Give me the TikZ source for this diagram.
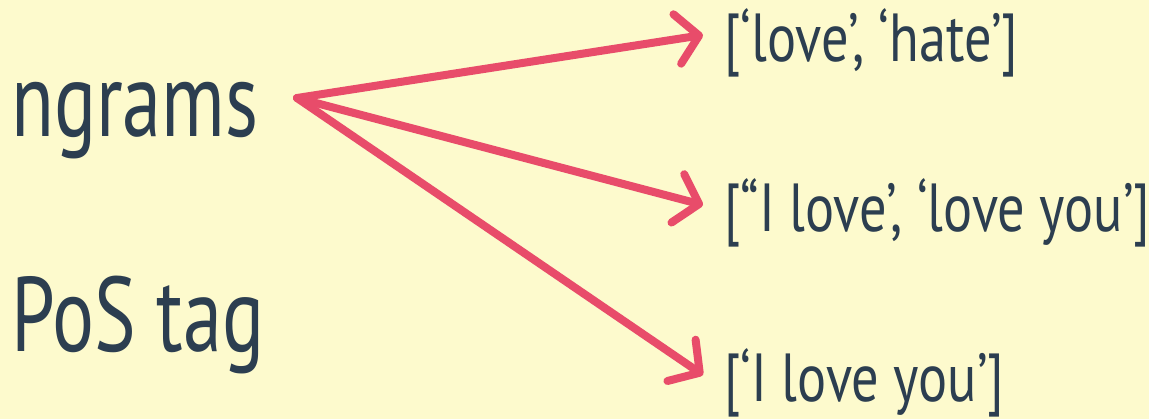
\documentclass[tikz,border=0pt]{standalone}
\usepackage{fontspec}
\setmainfont{PT Sans}[FakeStretch=0.8]
\newfontfamily\termfont{PT Sans}[FakeStretch=0.74]
\usetikzlibrary{arrows.meta,calc}
\definecolor{paper}{HTML}{FDFACD}
\definecolor{ink}{HTML}{2C3E50}
\definecolor{rose}{HTML}{E84C6A}
\begin{document}
\begin{tikzpicture}[x=1pt,y=-1pt,
  bigword/.style={inner sep=0pt,anchor=base west,text=ink,font=\termfont\fontsize{106}{110}\selectfont},
  listword/.style={inner sep=0pt,anchor=base west,text=ink,font=\fontsize{68}{72}\selectfont},
  arr/.style={draw=rose,line width=8pt,line cap=round,line join=round,
    -{Straight Barb[length=22pt,width=50pt,line cap=round,line join=round]}}]
  \fill[paper] (0,0) rectangle (1149,419);
  \useasboundingbox (0,0) rectangle (1149,419);
  % left-hand terms
  \node[bigword] (ngrams) at (11,137) {ngrams};
  \node[bigword] (pos) at (11,352) {PoS tag};
  % resulting lists
  \node[listword] (l1) at (724,62) {[‘love’, ‘hate’]};
  \node[listword] (l2) at (724,232) {[“I love’, ‘love you’]};
  \node[listword] (l3) at (724,402) {[‘I love you’]};
  % arrows fanning out from the ngrams term
  \coordinate (src) at (297,98);
  \coordinate (t1) at ($(l1.base west)+(-21,-27)$);
  \coordinate (t2) at ($(l2.base west)+(-21,-27)$);
  \coordinate (t3) at ($(l3.base west)+(-21,-27)$);
  \draw[arr] (src) -- (t1);
  \draw[arr] (src) -- (t2);
  \draw[arr] (src) -- (t3);
\end{tikzpicture}
\end{document}
